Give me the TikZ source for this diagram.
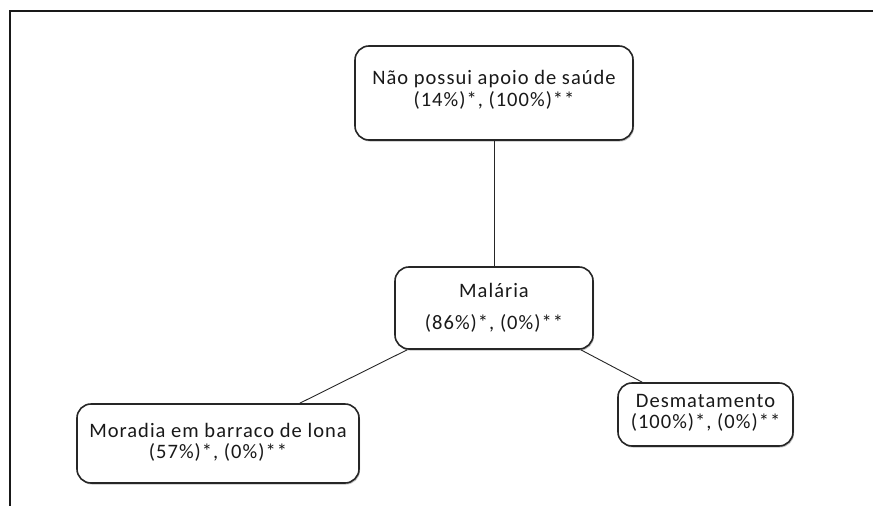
\documentclass[tikz,border=0pt]{standalone}
\usepackage{fontspec}
\setmainfont{Carlito}[LetterSpace=5]
\usetikzlibrary{shadows}
\begin{document}
\begin{tikzpicture}[x=1pt,y=-1pt,
  box/.style={draw=black!85, line width=1.6pt, rounded corners=14pt, fill=white,
    inner sep=0pt,
    drop shadow={shadow xshift=1pt, shadow yshift=-1.5pt, opacity=0.25, fill=black}},
  txt/.style={align=center, inner sep=0pt, text=black!90,
    font=\fontsize{20.5}{21}\selectfont},
  link/.style={draw=black!85, line width=0.9pt}]
  \useasboundingbox (0,0) rectangle (873,506);
  % outer frame (top and left edges)
  \draw[black!90, line width=2pt] (9.5,506) -- (9.5,11) -- (873,11);

  % boxes
  \node[box, minimum width=278pt, minimum height=94pt] (top) at (494,93) {};
  \node[box, minimum width=198pt, minimum height=82pt] (mal) at (494,308) {};
  \node[box, minimum width=175pt, minimum height=63pt] (des) at (705.5,414.5) {};
  \node[box, minimum width=282pt, minimum height=79pt] (mor) at (218,443.5) {};

  % box texts
  \node[txt] (topt) at ([yshift=3pt]top.center)
    {Não possui apoio de saúde\\[1pt](14\%)*, (100\%)**};
  \node[txt] (malt) at (mal.center)
    {Malária\\[11pt](86\%)*, (0\%)**};
  \node[txt] (dest) at ([yshift=1.3pt]des.center)
    {Desmatamento\\(100\%)*, (0\%)**};
  \node[txt] (mort) at ([yshift=0.9pt]mor.center)
    {Moradia em barraco de lona\\(57\%)*, (0\%)**};

  % connectors
  \draw[link] (top.south) -- (mal.north);
  \draw[link] ([xshift=13pt]mal.south west) -- ([xshift=-60pt]mor.north east);
  \draw[link] ([xshift=-13pt]mal.south east) -- ([xshift=25pt]des.north west);
\end{tikzpicture}
\end{document}
